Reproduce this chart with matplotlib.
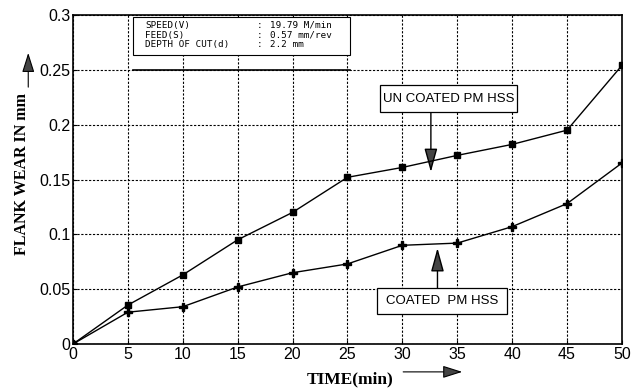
import matplotlib
matplotlib.use("Agg")
import matplotlib.pyplot as plt
from matplotlib.patches import Rectangle

# data
time_min = [0, 5, 10, 15, 20, 25, 30, 35, 40, 45, 50]
uncoated = [0.0, 0.0355, 0.063, 0.095, 0.120, 0.152, 0.161, 0.172, 0.182, 0.195, 0.254]
coated = [0.0, 0.029, 0.034, 0.052, 0.065, 0.073, 0.090, 0.092, 0.107, 0.128, 0.165]
x_ticks = [0, 5, 10, 15, 20, 25, 30, 35, 40, 45, 50]
y_ticks = [0, 0.05, 0.1, 0.15, 0.2, 0.25, 0.3]
y_tick_labels = ["0", "0.05", "0.1", "0.15", "0.2", "0.25", "0.3"]
info_names = ["SPEED(V)", "FEED(S)", "DEPTH OF CUT(d)"]
info_values = ["19.79 M/min", "0.57 mm/rev", "2.2 mm"]

plt.rcParams['font.family'] = ['Liberation Sans', 'DejaVu Sans']

fig = plt.figure(figsize=(6.42, 3.89), dpi=100)
ax = fig.add_axes([0.1137, 0.1157, 0.855, 0.8457])

ax.plot(time_min, uncoated, color="black", lw=1.0, marker="s",
        markersize=5, markerfacecolor="black", zorder=4)
ax.plot(time_min, coated, color="black", lw=1.0, marker="P",
        markersize=5.5, markerfacecolor="black", zorder=4)

ax.set_xlim(0, 50)
ax.set_ylim(0, 0.3)
ax.set_xticks(x_ticks)
ax.set_yticks(y_ticks)
ax.set_yticklabels(y_tick_labels)
ax.tick_params(direction="in", length=3, labelsize=11.5, pad=2, color="black")
ax.grid(True, color="black", linestyle=(0, (2, 1.5)), linewidth=0.8)
for s in ax.spines.values():
    s.set_linewidth(1.2)

# info box with cutting conditions
ax.add_patch(Rectangle((5.46, 0.2635), 19.77, 0.0348, fc="white", ec="black",
                       lw=0.8, zorder=3))
ax.plot([5.46, 25.23], [0.25, 0.25], color="black", lw=1.2, zorder=3)
for i, (name, val) in enumerate(zip(info_names, info_values)):
    yy = 0.2905 - i * 0.0088
    ax.text(6.56, yy, name, family="DejaVu Sans Mono", fontsize=6.7,
            va="center", ha="left", zorder=5)
    ax.text(17.03, yy, ":", family="DejaVu Sans Mono", fontsize=6.7,
            va="center", ha="center", zorder=5)
    ax.text(17.94, yy, val, family="DejaVu Sans Mono", fontsize=6.7,
            va="center", ha="left", zorder=5)

# annotation boxes
arrow = dict(arrowstyle="-|>,head_length=1.45,head_width=0.4", color="black",
             lw=1.0, fc="#444444", shrinkA=0, shrinkB=0)
ax.add_patch(Rectangle((28.0, 0.2115), 12.4, 0.0245, fc="white", ec="black",
                       lw=0.9, zorder=5))
ax.text(34.2, 0.2237, "UN COATED PM HSS", fontsize=9.5, ha="center",
        va="center", zorder=6)
ax.annotate("", xy=(32.6, 0.1568), xytext=(32.6, 0.2115), arrowprops=arrow)

ax.add_patch(Rectangle((27.7, 0.027), 11.8, 0.024, fc="white", ec="black",
                       lw=0.9, zorder=5))
ax.text(33.6, 0.039, "COATED  PM HSS", fontsize=9.5, ha="center",
        va="center", zorder=6)
ax.annotate("", xy=(33.2, 0.0875), xytext=(33.2, 0.051), arrowprops=arrow)

# axis labels with arrows
fig.text(0.035, 0.552, "FLANK WEAR IN mm", rotation=90, ha="center",
         va="center", family="Liberation Serif", fontweight="bold",
         fontsize=11.5)
fig.text(0.545, 0.024, "TIME(min)", ha="center", va="center",
         family="Liberation Serif", fontweight="bold", fontsize=12.5)
fig_arrow = dict(arrowstyle="-|>,head_length=1.2,head_width=0.38",
                 color="black", lw=0.8, fc="#444444", shrinkA=0, shrinkB=0)
ax.annotate("", xy=(0.044, 0.864), xytext=(0.044, 0.776),
            xycoords="figure fraction", textcoords="figure fraction",
            arrowprops=fig_arrow)
ax.annotate("", xy=(0.72, 0.044), xytext=(0.628, 0.044),
            xycoords="figure fraction", textcoords="figure fraction",
            arrowprops=fig_arrow)

fig.savefig("out.png", dpi=100)
